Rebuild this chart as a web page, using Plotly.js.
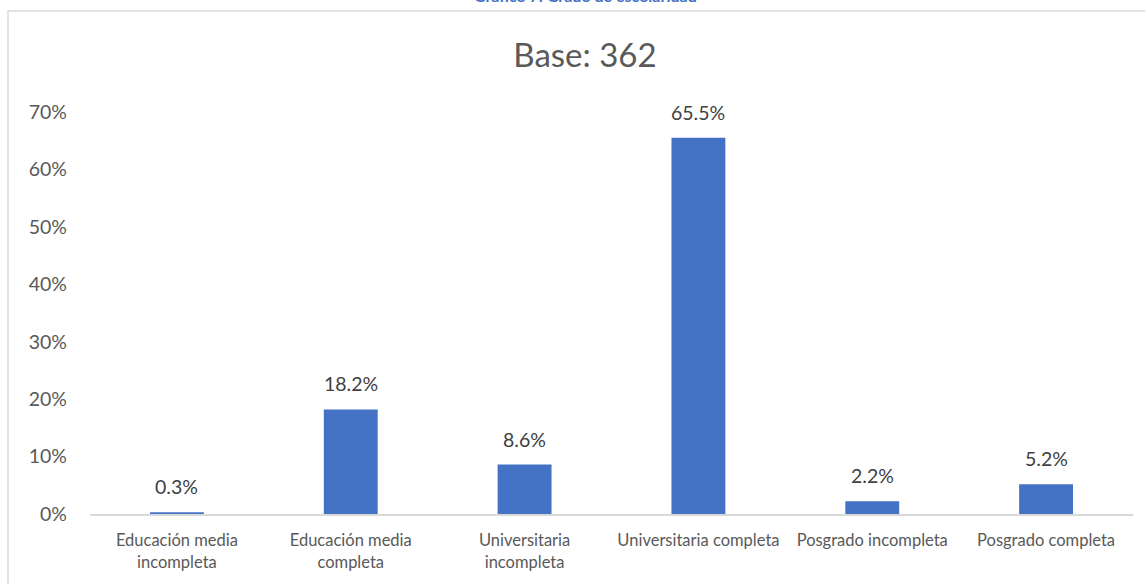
<!DOCTYPE html>
<html>
<head>
<meta charset="utf-8">
<script src="https://cdn.plot.ly/plotly-3.0.1.min.js"></script>
<style>
html,body{margin:0;padding:0;background:#fff;}
#chart{width:1145px;height:584px;}
</style>
</head>
<body>
<div id="chart"></div>
<script>
const categories = [
  "Educación media<br>incompleta",
  "Educación media<br>completa",
  "Universitaria<br>incompleta",
  "Universitaria completa",
  "Posgrado incompleta",
  "Posgrado completa"
];
const values = [0.3, 18.2, 8.6, 65.5, 2.2, 5.2];
const yTickValues = [0, 10, 20, 30, 40, 50, 60, 70];
const chartTitle = "Base: 362";
const caption = "Gráfico 7: Grado de escolaridad";

const FONT = "Lato, 'Open Sans', sans-serif";

const trace = {
  type: "bar",
  x: categories,
  y: values,
  marker: {color: "#4472C4"},
  cliponaxis: false,
  hoverinfo: "none"
};

const L = 90, R = 12, T = 112, B = 70;
const W = 1145, H = 584;
const pw = W - L - R, ph = H - T - B;
const px = x => (x - L) / pw;
const py = y => (H - B - y) / ph;

const labelAnnotations = categories.map((c, i) => ({
  x: c, y: values[i], xref: "x", yref: "y",
  text: values[i].toFixed(1) + "%",
  showarrow: false, yanchor: "bottom", yshift: 12,
  font: {family: FONT, size: 19.5, color: "#404040"}
}));

const layout = {
  width: W, height: H,
  margin: {l: L, r: R, t: T, b: B},
  paper_bgcolor: "#ffffff",
  plot_bgcolor: "#ffffff",
  bargap: 0.69,
  showlegend: false,
  font: {family: FONT, color: "#595959"},
  title: {
    text: chartTitle,
    font: {family: FONT, size: 33, color: "#595959"},
    x: 585 / W, xanchor: "center",
    y: 1 - 55 / H, yanchor: "middle"
  },
  xaxis: {
    type: "category",
    showgrid: false,
    showline: true,
    linecolor: "#D9D9D9",
    linewidth: 1.5,
    ticks: "",
    tickfont: {family: FONT, size: 16.5, color: "#595959"},
    ticklabelstandoff: 11,
    zeroline: false,
    fixedrange: true
  },
  yaxis: {
    range: [0, 70],
    tickvals: yTickValues,
    ticktext: yTickValues.map(v => v + "%"),
    showgrid: false,
    showline: false,
    zeroline: false,
    ticks: "",
    tickfont: {family: FONT, size: 19.5, color: "#595959"},
    ticklabelstandoff: 22,
    fixedrange: true
  },
  shapes: [{
    type: "rect", xref: "paper", yref: "paper",
    x0: px(8), x1: px(1160), y0: py(600), y1: py(11),
    line: {color: "#D9D9D9", width: 1.5},
    fillcolor: "rgba(0,0,0,0)", layer: "below"
  }],
  annotations: [{
    text: "<b>" + caption + "</b>",
    xref: "paper", yref: "paper",
    x: px(585), xanchor: "center",
    y: py(7), yanchor: "bottom",
    showarrow: false,
    font: {family: FONT, size: 16, color: "#4472C4"}
  }].concat(labelAnnotations)
};

Plotly.newPlot("chart", [trace], layout, {displayModeBar: false, staticPlot: true});
</script>
</body>
</html>
